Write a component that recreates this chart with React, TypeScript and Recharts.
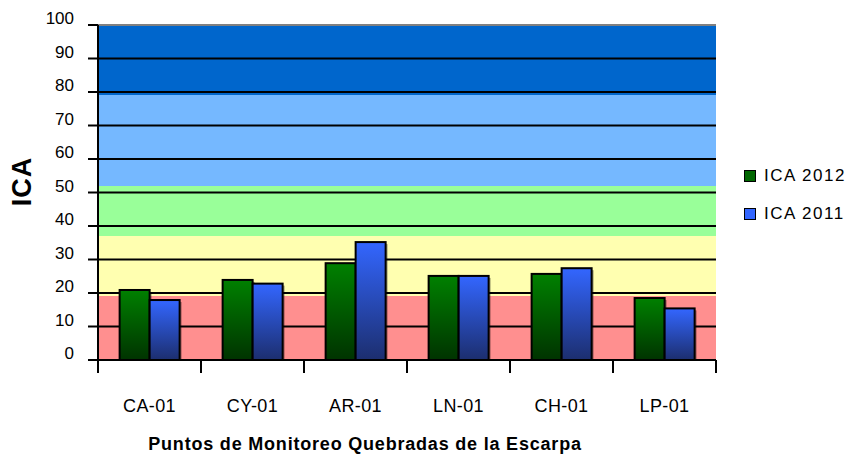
import {
  BarChart,
  Bar,
  XAxis,
  YAxis,
  CartesianGrid,
  Legend,
  Label,
  ReferenceLine,
} from "recharts";

// station codes along the x axis
const stations = ["CA-01", "CY-01", "AR-01", "LN-01", "CH-01", "LP-01"];

// ICA values
const ica2012 = [20.9, 23.9, 28.9, 25.1, 25.7, 18.5];
const ica2011 = [17.9, 22.8, 35.2, 25.1, 27.4, 15.4];

const seriesNames = ["ICA 2012", "ICA 2011"];

const yTicks = [0, 10, 20, 30, 40, 50, 60, 70, 80, 90, 100];

// quality bands (edges from top to bottom)
const bandEdges = [100, 79, 52, 37, 19, 0];

const FONT = "Arial, 'Liberation Sans', sans-serif";
const BAND_COLORS = ["#0066CC", "#75B8FF", "#99FF99", "#FFFFB0", "#FF8F8F", "#FF8F8F"];
const LEGEND_COLORS = ["#006600", "#3366FF"];

const data = stations.map((station, i) => ({
  station,
  ica2012: ica2012[i],
  ica2011: ica2011[i],
}));

const gridValues = yTicks.filter((v) => v > 0 && v < 100);

const ShadedBar = (props: any) => {
  const { x, y, width, height, fill } = props;
  if (!height || height <= 0) return null;
  return (
    <g>
      <rect
        x={x + 2}
        y={y + 2}
        width={width}
        height={Math.max(height - 2, 0)}
        fill="#000"
        fillOpacity={0.35}
      />
      <rect
        x={x}
        y={y}
        width={width}
        height={height}
        fill={fill}
        stroke="#000"
        strokeWidth={2}
      />
    </g>
  );
};

// category label plus the little tick marks on the category borders
const StationTick = (p: any) => {
  const count = p.visibleTicksCount || stations.length;
  const band = (p.width || 618) / count;
  const left = p.x - band / 2;
  const right = p.x + band / 2;
  const isLast = p.index === count - 1;
  return (
    <g>
      <line x1={left} x2={left} y1={p.y} y2={p.y + 13} stroke="#000" strokeWidth={2} />
      {isLast && (
        <line x1={right} x2={right} y1={p.y} y2={p.y + 13} stroke="#000" strokeWidth={2} />
      )}
      <text
        x={p.x}
        y={p.y + 46}
        dy="0.35em"
        textAnchor="middle"
        fontFamily={FONT}
        fontSize={18}
        letterSpacing={0.4}
        fill="#000"
      >
        {p.payload.value}
      </text>
    </g>
  );
};

const renderLegend = () => (
  <div style={{ fontFamily: FONT, fontSize: 17, letterSpacing: 1.5, color: "#000" }}>
    {seriesNames.map((name, i) => (
      <div
        key={name}
        style={{ display: "flex", alignItems: "center", height: 38 }}
      >
        <span
          style={{
            display: "inline-block",
            width: 10,
            height: 10,
            border: "1px solid #000",
            background: LEGEND_COLORS[i],
            marginRight: 8,
          }}
        />
        <span>{name}</span>
      </div>
    ))}
  </div>
);

export default function App() {
  return (
    <div
      style={{
        position: "absolute",
        left: 0,
        top: 0,
        width: 854,
        height: 458,
        background: "#fff",
      }}
    >
      <BarChart
        width={854}
        height={458}
        data={data}
        margin={{ top: 25, right: 138, bottom: 0, left: 0 }}
        barCategoryGap="21%"
        barGap={0}
      >
        <defs>
          <linearGradient id="g2012" x1="0" y1="0" x2="0" y2="1">
            <stop offset="0%" stopColor="#008000" />
            <stop offset="100%" stopColor="#003300" />
          </linearGradient>
          <linearGradient id="g2011" x1="0" y1="0" x2="0" y2="1">
            <stop offset="0%" stopColor="#3366FF" />
            <stop offset="100%" stopColor="#1C2E6E" />
          </linearGradient>
        </defs>

        <CartesianGrid
          vertical={false}
          stroke="none"
          horizontalValues={bandEdges}
          horizontalFill={BAND_COLORS}
          fillOpacity={1}
        />
        <CartesianGrid
          vertical={false}
          stroke="#000"
          strokeWidth={2}
          horizontalValues={gridValues}
        />

        <XAxis
          dataKey="station"
          height={98}
          axisLine={{ stroke: "#000", strokeWidth: 2 }}
          tickLine={false}
          tickSize={0}
          tickMargin={0}
          interval={0}
          tick={StationTick}
        >
          <Label
            content={(lp: any) => {
              const vb = lp.viewBox || { x: 98, y: 360, width: 618 };
              return (
                <text
                  x={vb.x + vb.width / 2 - 42}
                  y={vb.y + 84}
                  dy="0.35em"
                  textAnchor="middle"
                  fontFamily={FONT}
                  fontSize={18}
                  fontWeight="bold"
                  letterSpacing={0.8}
                  fill="#000"
                >
                  Puntos de Monitoreo Quebradas de la Escarpa
                </text>
              );
            }}
          />
        </XAxis>

        <YAxis
          domain={[0, 100]}
          ticks={yTicks}
          interval={0}
          width={98}
          tickSize={10}
          tickMargin={14}
          axisLine={{ stroke: "#000", strokeWidth: 2 }}
          tickLine={{ stroke: "#000", strokeWidth: 2 }}
          tick={(p: any) => (
            <text
              x={p.x}
              y={p.y - 6.5}
              dy="0.35em"
              textAnchor="end"
              fontFamily={FONT}
              fontSize={17}
              fill="#000"
            >
              {p.payload.value}
            </text>
          )}
        >
          <Label
            content={(lp: any) => {
              const vb = lp.viewBox || { x: 0, y: 25, width: 98, height: 335 };
              const cx = vb.x + 22;
              const cy = vb.y + vb.height / 2 - 11;
              return (
                <text
                  x={cx}
                  y={cy}
                  dy="0.35em"
                  textAnchor="middle"
                  transform={`rotate(-90 ${cx} ${cy})`}
                  fontFamily={FONT}
                  fontSize={27}
                  fontWeight="bold"
                  letterSpacing={1}
                  fill="#000"
                >
                  ICA
                </text>
              );
            }}
          />
        </YAxis>

        <YAxis
          yAxisId="r"
          orientation="right"
          width={0}
          domain={[0, 100]}
          tick={false}
          tickLine={false}
          axisLine={{ stroke: "#808080", strokeWidth: 2 }}
        />

        <ReferenceLine y={100} stroke="#808080" strokeWidth={2} />

        <Legend
          layout="vertical"
          align="center"
          verticalAlign="middle"
          wrapperStyle={{ left: 744, top: 157, width: 110 }}
          content={renderLegend}
        />

        <Bar
          dataKey="ica2012"
          name={seriesNames[0]}
          fill="url(#g2012)"
          shape={ShadedBar}
          isAnimationActive={false}
        />
        <Bar
          dataKey="ica2011"
          name={seriesNames[1]}
          fill="url(#g2011)"
          shape={ShadedBar}
          isAnimationActive={false}
        />
      </BarChart>
    </div>
  );
}
